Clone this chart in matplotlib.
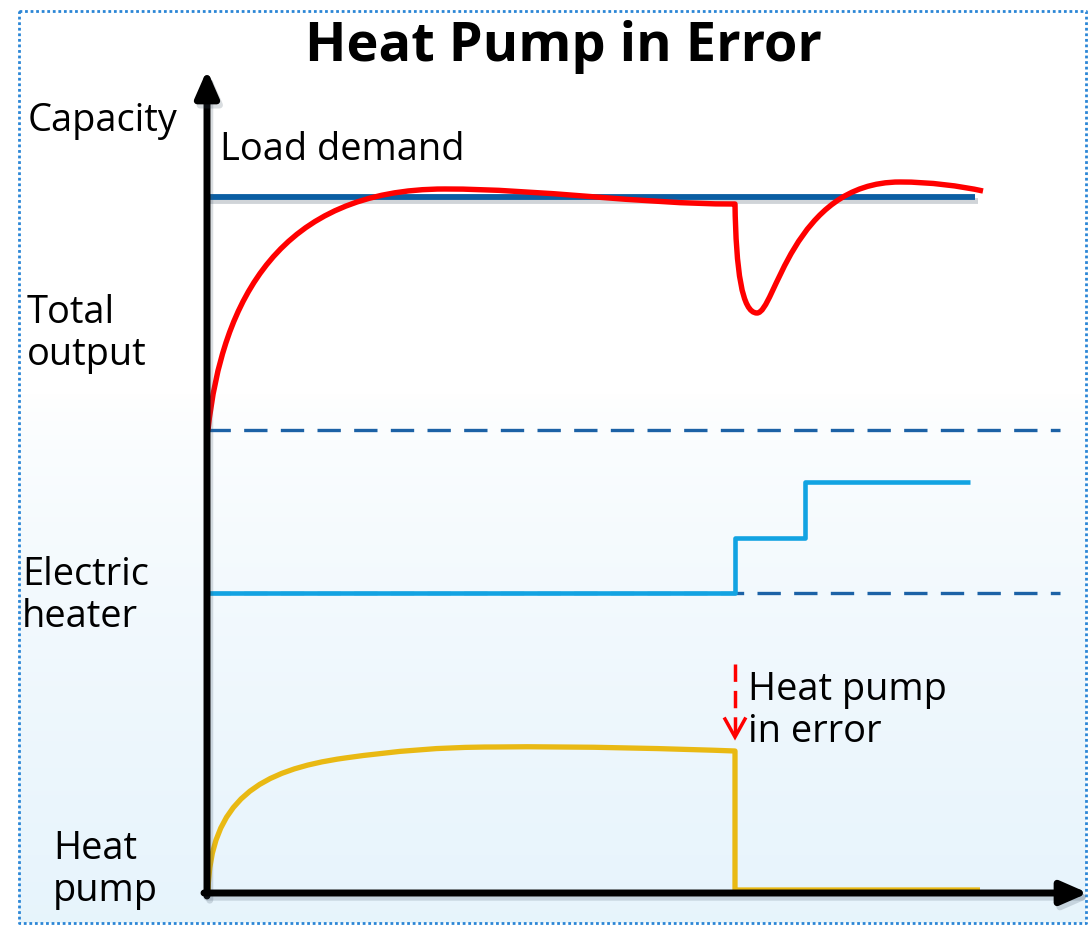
import numpy as np
import matplotlib
matplotlib.use("Agg")
import matplotlib.pyplot as plt
import matplotlib.patheffects as pe
from matplotlib.path import Path
from matplotlib.patches import PathPatch

plt.rcParams['font.family'] = ['Open Sans', 'DejaVu Sans']

# ---- data (schematic, in picture units: x = time, y = capacity, downward) ----
title = "Heat Pump in Error"
load_demand_x = [207, 975]
load_demand_y = [197, 197]

# total output: Bezier control points ('M' move, 'L' line, 'C' cubic control/end point)
total_x = [208, 222, 280, 445, 540, 640, 733, 735, 736, 742, 757, 775, 792, 900, 930, 960, 983]
total_y = [430, 300, 189, 189, 189, 204, 204, 204, 270, 313, 313, 313, 182, 182, 182, 186, 191]
total_k = ['M', 'C', 'C', 'C', 'C', 'C', 'C', 'L', 'C', 'C', 'C', 'C', 'C', 'C', 'C', 'C', 'C']

heater_x = [207, 735, 735, 805, 805, 970]
heater_y = [593, 593, 538, 538, 482, 482]

pump_x = [208, 210, 260, 345, 395, 440, 495, 580, 680, 735, 735, 980]
pump_y = [892, 800, 770, 758, 751, 747, 747, 746, 749, 751, 890, 890]
pump_k = ['M', 'C', 'C', 'C', 'C', 'C', 'C', 'C', 'C', 'C', 'L', 'L']

dashed_levels = [430, 593]
labels = ["Capacity", "Load demand", "Total\noutput", "Electric\nheater", "Heat\npump", "Heat pump\nin error"]

CODE = {'M': Path.MOVETO, 'L': Path.LINETO, 'C': Path.CURVE4}

# ---- figure ----
W, H = 1089, 926
fig = plt.figure(figsize=(W / 100, H / 100), dpi=100)
ax = fig.add_axes([0, 0, 1, 1])
ax.set_xlim(0, W)
ax.set_ylim(H, 0)
ax.axis('off')

# background gradient (white top -> light blue bottom)
grad = np.ones((200, 1, 3))
t = np.linspace(0, 1, 200)
w = np.clip((t - 0.42) / 0.58, 0, 1) ** 0.7
top = np.array([1.0, 1.0, 1.0])
bot = np.array([0.905, 0.957, 0.988])
grad[:, 0, :] = top[None, :] * (1 - w[:, None]) + bot[None, :] * w[:, None]
ax.imshow(grad, extent=[19, 1086, 923, 11], aspect='auto', zorder=0)

# dotted border
ax.plot([19, 1086, 1086, 19, 19], [11, 11, 923, 923, 11], color='#2b86d6', lw=2,
        ls=(0, (1, 1)), zorder=1)

shadow = [pe.SimpleLineShadow(offset=(2, -3), alpha=0.25, shadow_color='#445566'), pe.Normal()]
shadow_ax = [pe.SimpleLineShadow(offset=(2, -3), alpha=0.2, shadow_color='#445566'), pe.Normal()]

# dashed reference lines
for lv in dashed_levels:
    ax.plot([207, 1060], [lv, lv], color='#1c62a6', lw=2.4, ls=(0, (7, 4)), zorder=2)

# load demand
ax.plot(load_demand_x, load_demand_y, color='#0a5ea3', lw=4.2, zorder=3, path_effects=shadow,
        solid_capstyle='butt')

# electric heater
ax.plot(heater_x, heater_y, color='#12a3e2', lw=3.3, zorder=4, solid_capstyle='butt')


def curve(xs, ys, ks, color, lw, z):
    path = Path(np.column_stack([xs, ys]), [CODE[k] for k in ks])
    patch = PathPatch(path, facecolor='none', edgecolor=color, lw=lw, zorder=z,
                      capstyle='butt', joinstyle='round')
    ax.add_patch(patch)


# heat pump
curve(pump_x, pump_y, pump_k, '#e9b913', 3.8, 5)
# total output
curve(total_x, total_y, total_k, '#ff0000', 3.9, 6)

# axes arrows
ax.annotate('', xy=(207, 70), xytext=(207, 896),
            arrowprops=dict(arrowstyle='-|>,head_length=1.6,head_width=0.7', lw=5, color='black',
                            shrinkA=0, shrinkB=0, path_effects=shadow_ax), zorder=7)
ax.annotate('', xy=(1088, 893), xytext=(204, 893),
            arrowprops=dict(arrowstyle='-|>,head_length=1.6,head_width=0.7', lw=5, color='black',
                            shrinkA=0, shrinkB=0, path_effects=shadow_ax), zorder=7)

# red dashed arrow (error marker)
ax.plot([735, 735], [664, 733], color='#ff0000', lw=2.5, ls=(0, (5, 2.6)), zorder=7,
        solid_capstyle='butt')
ax.plot([725, 735, 745], [719, 737, 719], color='#ff0000', lw=2.5, zorder=7,
        solid_joinstyle='miter')

# texts
ax.text(563, 47, title, fontsize=39, fontweight='bold', ha='center', va='center', zorder=8)
fs = 27.4
ax.text(28, 121, labels[0], fontsize=fs, ha='left', va='center')
ax.text(220, 150, labels[1], fontsize=fs, ha='left', va='center')
ax.text(27, 334, labels[2], fontsize=fs, ha='left', va='center', linespacing=1.17)
ax.text(22, 596, labels[3], fontsize=fs, ha='left', va='center', linespacing=1.17)
ax.text(53, 870, labels[4], fontsize=fs, ha='left', va='center', linespacing=1.17)
ax.text(748, 711, labels[5], fontsize=fs, ha='left', va='center', linespacing=1.17)

fig.savefig('out.png', dpi=100)
